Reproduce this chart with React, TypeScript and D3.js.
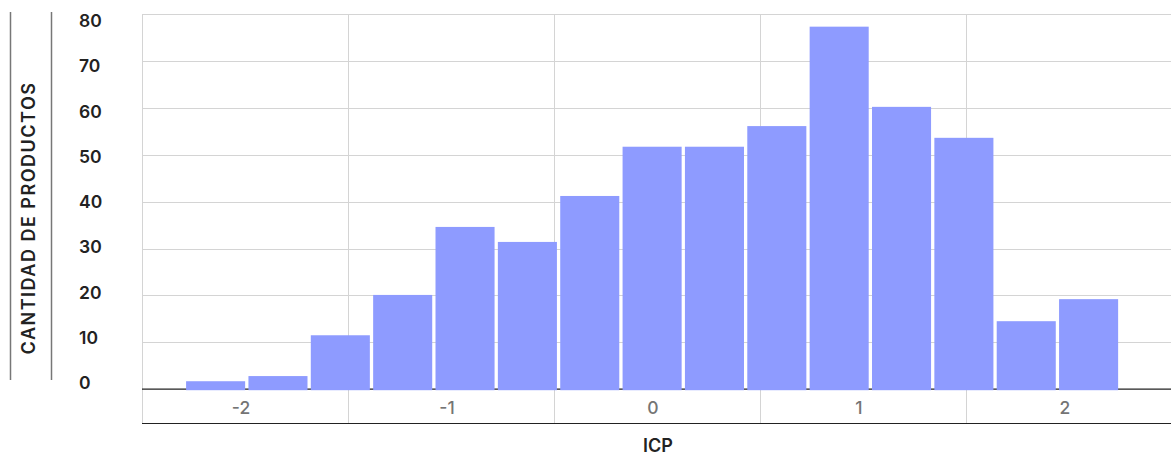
import * as d3 from 'd3';
import { useEffect, useRef } from 'react';

// histogram counts per ICP bin
const counts = [1.7, 2.8, 11.5, 20.1, 34.6, 31.4, 41.2, 51.7, 51.7, 56.1, 77.3, 60.2, 53.6, 14.5, 19.2];
// left edge of the first bin and bin width, in ICP units
const binStart = -2.286;
const binWidth = 0.3027;
const xTickLabels = [-2, -1, 0, 1, 2];
const yTicks = [0, 10, 20, 30, 40, 50, 60, 70, 80];

const width = 1171;
const height = 459;
const barColor = '#8e9bff';
const font = 'Inter, Roboto, sans-serif';

export default function App() {
  const ref = useRef<SVGSVGElement | null>(null);

  useEffect(() => {
    if (!ref.current) return;
    const svg = d3.select(ref.current);
    svg.selectAll('*').remove();

    const left = 142;
    const right = 1172;
    const top = 14;
    const bottom = 389.2;
    const axisBottom = 423.5;

    const x = d3.scaleLinear().domain([-2.5, 2.5]).range([left, right]);
    const y = d3.scaleLinear().domain([0, 80]).range([bottom, top]);
    // tick labels in the original sit slightly tighter than the grid
    const yLabel = d3.scaleLinear().domain([0, 80]).range([389, 27]);

    // horizontal grid
    svg
      .append('g')
      .selectAll('line')
      .data(yTicks.filter((t) => t > 0))
      .join('line')
      .attr('x1', left)
      .attr('x2', width)
      .attr('y1', (d) => Math.round(y(d)) + 0.5)
      .attr('y2', (d) => Math.round(y(d)) + 0.5)
      .attr('stroke', '#d4d4d4')
      .attr('stroke-width', 1);

    // vertical grid at half-unit boundaries
    svg
      .append('g')
      .selectAll('line')
      .data([-2.5, -1.5, -0.5, 0.5, 1.5])
      .join('line')
      .attr('x1', (d) => Math.round(x(d)) + 0.5)
      .attr('x2', (d) => Math.round(x(d)) + 0.5)
      .attr('y1', top)
      .attr('y2', axisBottom)
      .attr('stroke', '#d4d4d4')
      .attr('stroke-width', 1);

    // baseline and bottom of the label band
    svg
      .append('line')
      .attr('x1', left)
      .attr('x2', width)
      .attr('y1', bottom)
      .attr('y2', bottom)
      .attr('stroke', '#222')
      .attr('stroke-width', 1.2);
    svg
      .append('line')
      .attr('x1', left)
      .attr('x2', width)
      .attr('y1', axisBottom)
      .attr('y2', axisBottom)
      .attr('stroke', '#222')
      .attr('stroke-width', 1.2);

    // bars
    svg
      .append('g')
      .selectAll('rect')
      .data(counts)
      .join('rect')
      .attr('x', (_, i) => x(binStart + i * binWidth))
      .attr('width', (_, i) => x(binStart + (i + 1) * binWidth) - x(binStart + i * binWidth) - 3.3)
      .attr('y', (d) => y(d))
      .attr('height', (d) => bottom + 1 - y(d))
      .attr('fill', barColor);

    // y tick labels, left aligned
    svg
      .append('g')
      .selectAll('text')
      .data(yTicks)
      .join('text')
      .attr('x', 79)
      .attr('y', (d) => yLabel(d))
      .attr('font-family', font)
      .attr('font-size', 17.5)
      .attr('font-weight', 600)
      .attr('fill', '#222')
      .text((d) => d);

    // x tick labels in the band under the baseline
    svg
      .append('g')
      .selectAll('text')
      .data(xTickLabels)
      .join('text')
      .attr('x', (d) => x(d) - 4)
      .attr('y', 414)
      .attr('text-anchor', 'middle')
      .attr('font-family', font)
      .attr('font-size', 17.5)
      .attr('font-weight', 500)
      .attr('fill', '#757575')
      .text((d) => d);

    // axis titles
    svg
      .append('text')
      .attr('x', 658)
      .attr('y', 452)
      .attr('text-anchor', 'middle')
      .attr('font-family', font)
      .attr('font-size', 18)
      .attr('font-weight', 600)
      .attr('fill', '#222')
      .text('ICP');

    svg
      .append('text')
      .attr('transform', 'translate(34.5,218) rotate(-90)')
      .attr('text-anchor', 'middle')
      .attr('font-family', font)
      .attr('font-size', 18)
      .attr('font-weight', 600)
      .attr('letter-spacing', 1.5)
      .attr('fill', '#222')
      .text('CANTIDAD DE PRODUCTOS');

    // the two rules framing the y title
    svg
      .append('g')
      .selectAll('line')
      .data([10.5, 51.5])
      .join('line')
      .attr('x1', (d) => d)
      .attr('x2', (d) => d)
      .attr('y1', 12)
      .attr('y2', 380)
      .attr('stroke', '#777')
      .attr('stroke-width', 1.5);
  }, []);

  return (
    <svg
      ref={ref}
      width={width}
      height={height}
      style={{ position: 'absolute', left: 0, top: 0, background: '#fff' }}
    />
  );
}
